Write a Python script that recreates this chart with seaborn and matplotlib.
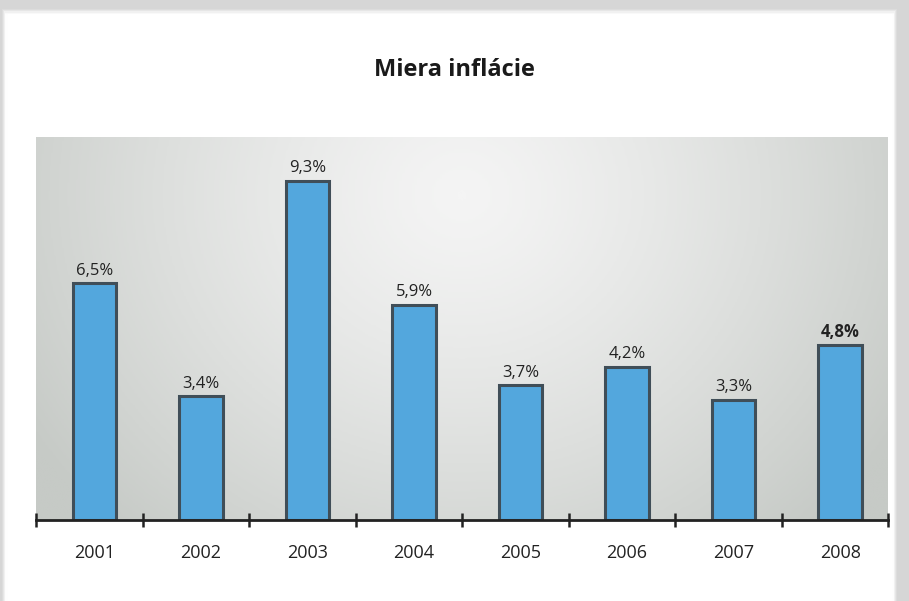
import numpy as np
import pandas as pd
import seaborn as sns
from matplotlib import pyplot as plt
from matplotlib.patches import Rectangle
from matplotlib.colors import LinearSegmentedColormap

years = ["2001", "2002", "2003", "2004", "2005", "2006", "2007", "2008"]
inflation = [6.5, 3.4, 9.3, 5.9, 3.7, 4.2, 3.3, 4.8]
value_labels = ["6,5%", "3,4%", "9,3%", "5,9%", "3,7%", "4,2%", "3,3%", "4,8%"]


def main():
    sns.set_style("white")
    plt.rcParams['font.family'] = ['Open Sans', 'DejaVu Sans']

    df = pd.DataFrame({"year": years, "inflation": inflation})

    fig = plt.figure(figsize=(9.09, 6.01), dpi=100)
    fig.patch.set_facecolor('#d6d6d6')

    # soft shadow + white card
    for i, a in enumerate(np.linspace(0.15, 0.9, 6)):
        fig.patches.append(Rectangle((0.002 + i * 0.001, 0.0), 0.985 - i * 0.002, 0.985 - i * 0.002,
                                     transform=fig.transFigure, facecolor='white', alpha=a,
                                     edgecolor='none', zorder=-2))
    fig.patches.append(Rectangle((0.009, 0.0), 0.972, 0.977, transform=fig.transFigure,
                                 facecolor='white', edgecolor='none', zorder=-1))

    ax = fig.add_axes([36 / 909, 81 / 601, 852 / 909, 383 / 601])

    # gray radial gradient behind the bars
    bg = LinearSegmentedColormap.from_list('bg', ['#c6cac6', '#f4f4f4'])
    gx, gy = np.meshgrid(np.linspace(0, 1, 300), np.linspace(0, 1, 200))
    r = np.sqrt(((gx - 0.5) / 0.6) ** 2 + ((gy - 0.85) / 1.2) ** 2)
    shade = 1 - np.clip(r, 0, 1) ** 1.3
    ax.imshow(shade, cmap=bg, vmin=0, vmax=1, origin='lower', extent=(0, 1, 0, 1),
              transform=ax.transAxes, aspect='auto', zorder=0)

    sns.barplot(data=df, x="year", y="inflation", color='#53a7dd', width=0.41,
                edgecolor='#404e58', linewidth=2.2, saturation=1, ax=ax, zorder=2)

    for i, (v, lab) in enumerate(zip(inflation, value_labels)):
        ax.text(i, v + 0.12, lab, ha='center', va='bottom', fontsize=12, color='#222222',
                fontweight='bold' if i == len(inflation) - 1 else 'normal', zorder=3)

    ax.set_xlim(-0.55, len(years) - 0.55)
    ax.set_ylim(0, 10.5)
    ax.set_xlabel('')
    ax.set_ylabel('')
    ax.set_yticks([])

    for side in ['top', 'right', 'left']:
        ax.spines[side].set_visible(False)
    ax.spines['bottom'].set_linewidth(2)
    ax.spines['bottom'].set_color('#222222')
    ax.spines['bottom'].set_zorder(4)

    ax.set_xticks(np.arange(-0.55, len(years)), minor=True)
    ax.tick_params(axis='x', which='minor', bottom=True, direction='inout', length=10,
                   width=1.8, color='#222222')
    ax.tick_params(axis='x', which='major', bottom=False, length=0, pad=17, labelsize=13,
                   labelcolor='#222222')

    fig.text(0.5, 0.883, 'Miera inflácie', ha='center', va='center', fontsize=17,
             fontweight='bold', color='#1a1a1a')

    fig.savefig('out.png', dpi=100, facecolor=fig.get_facecolor())


if __name__ == '__main__':
    main()
